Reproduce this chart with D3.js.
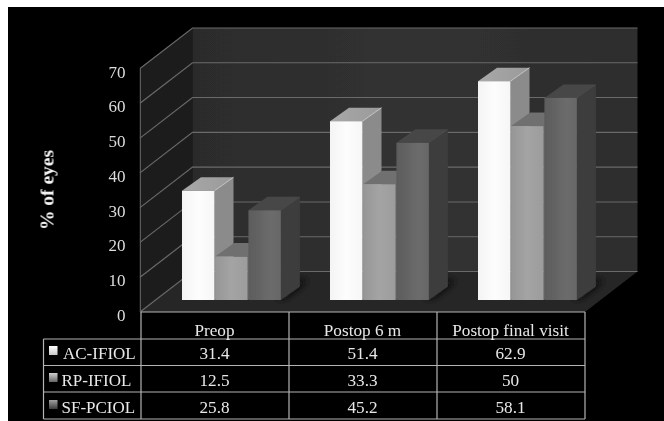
<!DOCTYPE html>
<html>
<head>
<meta charset="utf-8">
<script src="https://cdn.jsdelivr.net/npm/d3@7"></script>
<style>
html,body{margin:0;padding:0;background:#fff;}
svg{display:block;}
text{font-family:"Liberation Serif",serif;}
</style>
</head>
<body>
<svg width="664" height="421"></svg>
<script>
var categories = ["Preop", "Postop 6 m", "Postop final visit"];
var seriesNames = ["AC-IFIOL", "RP-IFIOL", "SF-PCIOL"];
var acIfiol = [31.4, 51.4, 62.9];
var rpIfiol = [12.5, 33.3, 50];
var sfPciol = [25.8, 45.2, 58.1];
var yTicks = [0, 10, 20, 30, 40, 50, 60, 70];
var seriesValues = [acIfiol, rpIfiol, sfPciol];

var svg = d3.select("svg");
var defs = svg.append("defs");

// soft look of the scanned figure
defs.append("filter").attr("id", "soft").attr("x", "-2%").attr("y", "-2%").attr("width", "104%").attr("height", "104%")
  .append("feGaussianBlur").attr("stdDeviation", 0.45);
defs.append("filter").attr("id", "shadow").attr("x", "-40%").attr("y", "-40%").attr("width", "180%").attr("height", "180%")
  .append("feGaussianBlur").attr("stdDeviation", 4);

function gradient(id, stops, horizontal) {
  var g = defs.append("linearGradient").attr("id", id)
    .attr("x1", 0).attr("y1", 0).attr("x2", horizontal ? 1 : 0).attr("y2", horizontal ? 0 : 1);
  stops.forEach(function(s) {
    g.append("stop").attr("offset", s[0]).attr("stop-color", s[1]);
  });
}
gradient("wall", [[0, "#2c2c2c"], [0.5, "#313131"], [1, "#2d2d2d"]], true);
gradient("front0", [[0, "#f4f4f4"], [0.5, "#fdfdfd"], [1, "#f6f6f6"]], true);
gradient("front1", [[0, "#969696"], [0.5, "#a4a4a4"], [1, "#9c9c9c"]], true);
gradient("front2", [[0, "#5c5c5c"], [0.7, "#6c6c6c"], [1, "#666666"]], true);
gradient("top0", [[0, "#a8a8a8"], [1, "#9a9a9a"]], true);
gradient("swatch0", [[0, "#ffffff"], [1, "#c8c8c8"]], false);
gradient("swatch1", [[0, "#d0d0d0"], [1, "#666666"]], false);
gradient("swatch2", [[0, "#a0a0a0"], [1, "#3c3c3c"]], false);

var frontColors = ["url(#front0)", "url(#front1)", "url(#front2)"];
var topColors = ["url(#top0)", "#6f6f6f", "#474747"];
var sideColors = ["#8b8b8b", "#707070", "#3d3d3d"];

// background
svg.append("rect").attr("x", 8).attr("y", 7).attr("width", 656).attr("height", 414).attr("fill", "#000");

var root = svg.append("g").attr("filter", "url(#soft)");

// scales
var y = d3.scaleLinear().domain([0, 70]).range([312, 68.5]);
var x = d3.scaleBand().domain(categories).range([141, 585]);
var depthX = 52.5, depthY = -40.5;
var barDx = 19, barDy = -13.5;
var barBase = 300;
var barWidth = 32.5;
var barStart = 41;

function poly(sel, pts, fill) {
  return sel.append("polygon").attr("points", pts.map(function(p) { return p.join(","); }).join(" ")).attr("fill", fill);
}

var x0 = x.range()[0] - 1, x1 = x.range()[1];
// side wall, back wall, floor
poly(root, [[x0, y(0)], [x0 + depthX, y(0) + depthY], [x0 + depthX, y(70) + depthY], [x0, y(70)]], "#1f1f1f");
poly(root, [[x0 + depthX, y(0) + depthY], [x1 + depthX, y(0) + depthY], [x1 + depthX, y(70) + depthY], [x0 + depthX, y(70) + depthY]], "url(#wall)");
poly(root, [[x0, y(0)], [x1, y(0)], [x1 + depthX, y(0) + depthY], [x0 + depthX, y(0) + depthY]], "#272727");

// gridlines
yTicks.forEach(function(t) {
  root.append("path")
    .attr("d", d3.line()([[x0, y(t)], [x0 + depthX, y(t) + depthY], [x1 + depthX, y(t) + depthY]]))
    .attr("fill", "none").attr("stroke", "#6a6a6a").attr("stroke-width", 1.1);
});
root.append("line").attr("x1", x0 + 0.3).attr("x2", x0 + 0.3).attr("y1", y(70)).attr("y2", y(0))
  .attr("stroke", "#6a6a6a").attr("stroke-width", 1);

// shadow on the floor to the right of each group
categories.forEach(function(c) {
  var sx = x(c) + barStart;
  var w = barWidth * 3 + 2;
  poly(root, [[sx + w - 6, barBase - 2], [sx + w + 4, barBase - 2], [sx + w + barDx + 8, barBase - 20], [sx + w + 8, barBase - 20]], "#111111")
    .attr("filter", "url(#shadow)");
});

// bars
categories.forEach(function(c, ci) {
  seriesNames.forEach(function(s, si) {
    var v = seriesValues[si][ci];
    var left = x(c) + barStart + si * (barWidth + 0.7);
    var right = left + barWidth;
    var topY = barBase - (y(0) - y(v));
    var g = root.append("g");
    poly(g, [[right, barBase], [right + barDx, barBase + barDy], [right + barDx, topY + barDy], [right, topY]], sideColors[si]);
    poly(g, [[left, topY], [right, topY], [right + barDx, topY + barDy], [left + barDx, topY + barDy]], topColors[si]);
    g.append("rect").attr("x", left).attr("y", topY).attr("width", barWidth).attr("height", barBase - topY)
      .attr("fill", frontColors[si]);
    // light seam along the top front edge
    g.append("line").attr("x1", right).attr("y1", topY).attr("x2", right + barDx).attr("y2", topY + barDy)
      .attr("stroke", si == 0 ? "#d8d8d8" : "#808080").attr("stroke-width", si == 0 ? 1 : 0.5).attr("opacity", si == 2 ? 0.3 : 0.8);
  });
});

// value axis
var yAxis = d3.axisLeft(y).tickValues(yTicks).tickSize(0).tickPadding(14.5);
var axisG = root.append("g").attr("transform", "translate(" + x0 + ",0)").call(yAxis);
axisG.select(".domain").remove();
axisG.selectAll("text").attr("fill", "#dcdcdc").style("font-size", "17px")
  .style("font-family", '"Liberation Serif",serif').attr("dy", "0.5em");

// axis title
root.append("text").attr("transform", "translate(53.5,190) rotate(-90)")
  .attr("text-anchor", "middle").attr("fill", "#f2f2f2")
  .style("font-size", "19.5px").style("font-weight", "bold").text("% of eyes");

// data table
var rowY = d3.scalePoint().domain(seriesNames).range([358.5, 412.5]);
var tableColor = "#b4b4b4";
var table = root.append("g").attr("stroke", tableColor).attr("stroke-width", 1.2).attr("fill", "none");
var hLines = [[141, 585, 312], [43.5, 585, 339], [43.5, 585, 365.5], [43.5, 585, 392], [43.5, 585, 419]];
hLines.forEach(function(l) {
  table.append("line").attr("x1", l[0]).attr("x2", l[1]).attr("y1", l[2]).attr("y2", l[2]);
});
table.append("line").attr("x1", 43.5).attr("x2", 43.5).attr("y1", 339).attr("y2", 419);
x.domain().concat([null]).forEach(function(c) {
  var px = c === null ? x.range()[1] : x(c);
  table.append("line").attr("x1", px).attr("x2", px).attr("y1", 312).attr("y2", 419);
});

var cellStyle = function(sel) {
  sel.attr("fill", "#e8e8e8").attr("text-anchor", "middle").style("font-size", "17.2px");
};
root.selectAll(".cat").data(categories).enter().append("text").attr("class", "cat")
  .attr("x", function(d) { return x(d) + x.bandwidth() / 2 - 0.5; }).attr("y", 336).call(cellStyle).text(function(d) { return d; });

seriesNames.forEach(function(s, si) {
  var ry = rowY(s);
  root.append("rect").attr("x", 49).attr("y", ry - 12.5).attr("width", 8.5).attr("height", 9)
    .attr("fill", "url(#swatch" + si + ")");
  root.append("text").attr("x", si == 0 ? 63 : 61.5).attr("y", ry).attr("fill", "#e8e8e8")
    .style("font-size", "17px").text(s);
  categories.forEach(function(c, ci) {
    root.append("text").attr("x", x(c) + x.bandwidth() / 2 - 0.5).attr("y", ry).call(cellStyle)
      .text(seriesValues[si][ci]);
  });
});
</script>
</body>
</html>
